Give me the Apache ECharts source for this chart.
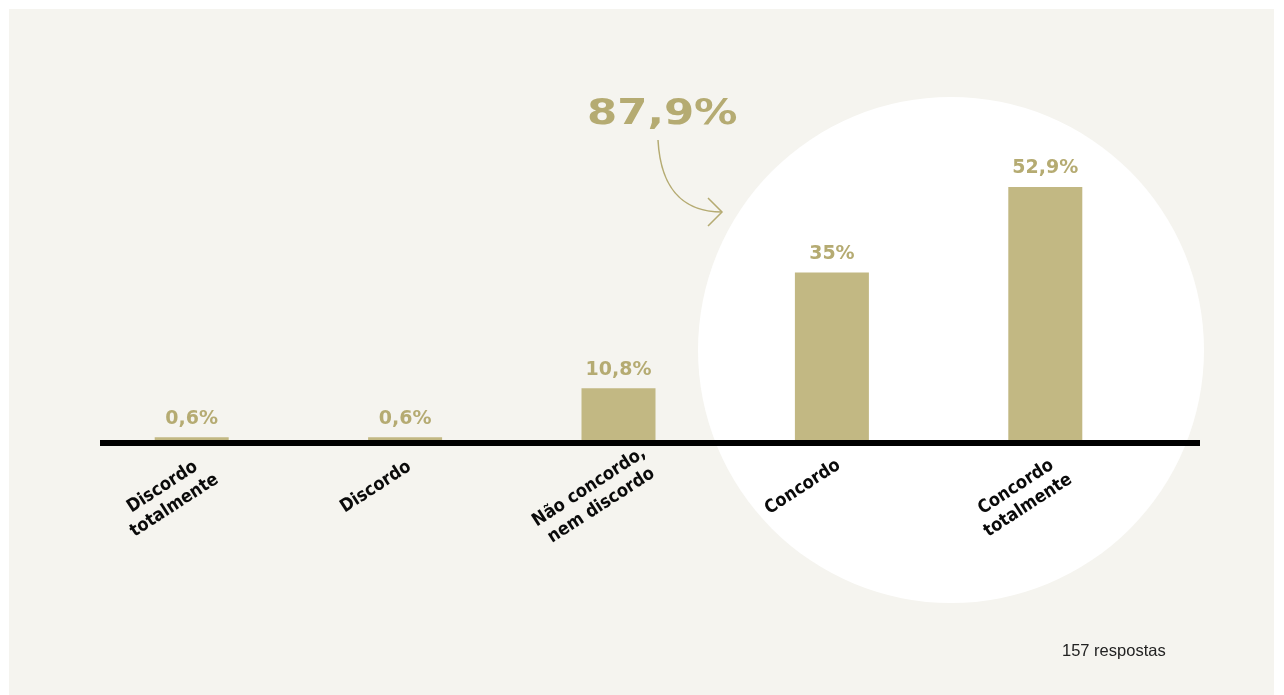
<!DOCTYPE html>
<html>
<head>
<meta charset="utf-8">
<script src="https://cdn.jsdelivr.net/npm/echarts@6/dist/echarts.min.js"></script>
<style>
  html, body { margin: 0; padding: 0; background: #ffffff; }
  #chart { width: 1284px; height: 695px; }
</style>
</head>
<body>
<div id="chart"></div>
<script>
// Answer categories and share of respondents (%)
const categories = [
  'Discordo\ntotalmente',
  'Discordo',
  'Não concordo,\nnem discordo',
  'Concordo',
  'Concordo\ntotalmente'
];
const shares = [0.6, 0.6, 10.8, 35, 52.9];
const agreeTotal = '87,9%';
const footnote = '157 respostas';

const GOLD_BAR = '#c2b883';
const GOLD_TEXT = '#b5ab72';

const fmtPct = v => String(v).replace('.', ',') + '%';

const chart = echarts.init(document.getElementById('chart'), null, { renderer: 'canvas' });

chart.setOption({
  backgroundColor: '#ffffff',
  animation: false,
  grid: [
    // bars
    { left: 85, right: 132, top: 153, bottom: 255 },
    // baseline rule spanning the full width
    { left: 100, right: 84, top: 200, bottom: 252 }
  ],
  xAxis: [
    {
      type: 'category',
      gridIndex: 0,
      data: categories,
      axisLine: { show: false },
      axisTick: { show: false },
      axisLabel: {
        interval: 0,
        rotate: 33,
        margin: 15,
        align: 'center',
        verticalAlign: 'top',
        padding: [0, 84, 0, 0],
        color: '#0a0a0a',
        fontFamily: "'DejaVu Sans Condensed', 'DejaVu Sans', sans-serif",
        fontWeight: 'bold condensed',
        fontSize: 18,
        lineHeight: 22
      }
    },
    {
      type: 'value',
      gridIndex: 1,
      min: 0,
      max: 1,
      axisLine: { show: true, lineStyle: { color: '#000000', width: 6, cap: 'butt' } },
      axisTick: { show: false },
      axisLabel: { show: false },
      splitLine: { show: false }
    }
  ],
  yAxis: [
    { type: 'value', gridIndex: 0, min: 0, max: 60, show: false },
    { type: 'value', gridIndex: 1, min: 0, max: 1, show: false }
  ],
  series: [
    {
      type: 'bar',
      xAxisIndex: 0,
      yAxisIndex: 0,
      data: shares,
      barWidth: 74,
      itemStyle: { color: GOLD_BAR },
      label: {
        show: true,
        position: 'top',
        distance: 9,
        formatter: p => fmtPct(p.value),
        color: GOLD_TEXT,
        fontFamily: "'DejaVu Sans', sans-serif",
        fontWeight: 'bold',
        fontSize: 19
      }
    }
  ],
  graphic: [
    // panel
    {
      type: 'rect',
      z: -20,
      shape: { x: 9, y: 9, width: 1265, height: 690 },
      style: { fill: '#f5f4ef' },
      silent: true
    },
    // highlight circle behind the "agree" bars
    {
      type: 'circle',
      z: -10,
      shape: { cx: 951, cy: 350, r: 253 },
      style: { fill: '#ffffff' },
      silent: true
    },
    // combined agreement figure
    {
      type: 'text',
      x: 587,
      y: 97,
      scaleX: 1.24,
      style: {
        text: agreeTotal,
        fill: GOLD_TEXT,
        font: "bold 35px 'DejaVu Sans', sans-serif",
        textVerticalAlign: 'top'
      }
    },
    // curved arrow pointing into the circle
    {
      type: 'bezierCurve',
      shape: { x1: 658, y1: 140, cpx1: 661, cpy1: 196, cpx2: 690, cpy2: 212, x2: 722, y2: 212 },
      style: { stroke: GOLD_TEXT, lineWidth: 1.5, fill: null }
    },
    {
      type: 'polyline',
      shape: { points: [[708, 198], [722, 212], [708, 226]] },
      style: { stroke: GOLD_TEXT, lineWidth: 1.5, fill: null }
    },
    // respondent count
    {
      type: 'text',
      x: 1062,
      y: 651,
      style: {
        text: footnote,
        fill: '#222222',
        font: "16.5px 'Liberation Sans', Arial, sans-serif",
        textVerticalAlign: 'middle'
      }
    }
  ]
});
</script>
</body>
</html>
